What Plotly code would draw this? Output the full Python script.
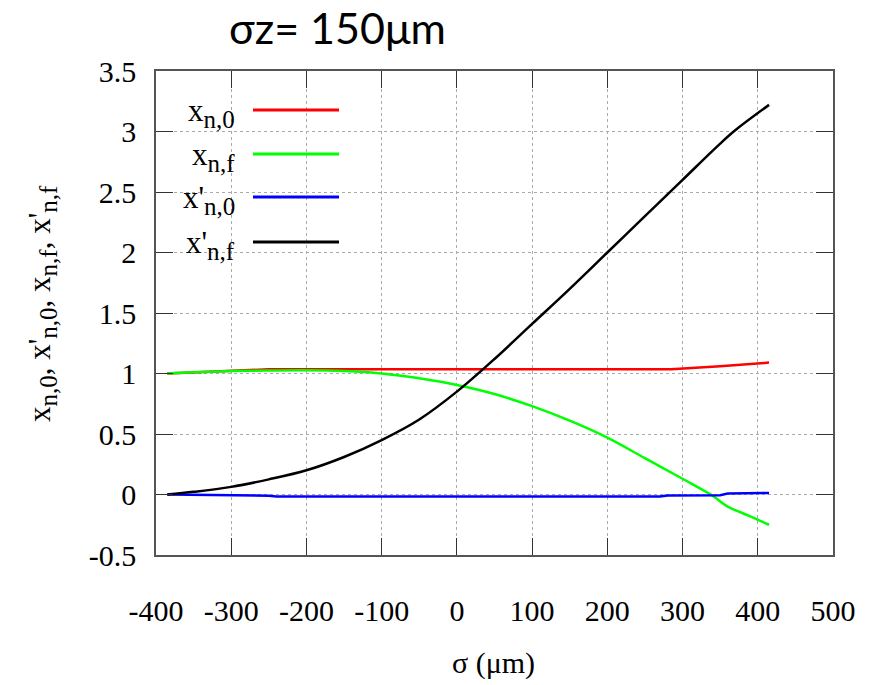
import plotly.graph_objects as go

# ---- data ----
sigma_r = [-385, -350, -300, -260, -250, 0, 285, 350, 415]
x_n0 = [1.0, 1.01, 1.02, 1.03, 1.035, 1.035, 1.035, 1.06, 1.09]

sigma_g = [-385, -350, -300, -250, -200, -150, -100, -50, 0, 50, 100, 150, 200, 250, 300, 340, 360, 390, 415]
x_nf = [1.0, 1.01, 1.02, 1.025, 1.027, 1.02, 1.0, 0.96, 0.905, 0.83, 0.73, 0.61, 0.47, 0.30, 0.13, -0.01, -0.10, -0.18, -0.25]

sigma_b = [-385, -320, -250, -240, 270, 280, 350, 360, 415]
xp_n0 = [0.0, -0.005, -0.01, -0.017, -0.017, -0.008, -0.006, 0.008, 0.013]

sigma_k = [-385, -350, -300, -250, -200, -150, -100, -50, 0, 50, 100, 150, 200, 250, 300, 350, 370, 415]
xp_nf = [0.0, 0.022, 0.063, 0.125, 0.20, 0.31, 0.45, 0.62, 0.85, 1.12, 1.41, 1.70, 2.0, 2.3, 2.6, 2.9, 3.01, 3.22]

SUB = "<sub><span style='font-size:25px'>{}</span></sub>"
x_n0_lbl = "x" + SUB.format("n,0")
x_nf_lbl = "x" + SUB.format("n,f")
xp_n0_lbl = "x'" + SUB.format("n,0")
xp_nf_lbl = "x'" + SUB.format("n,f")
names = [x_n0_lbl, x_nf_lbl, xp_n0_lbl, xp_nf_lbl]
colors = ["#ff0000", "#00ff00", "#0000ff", "#000000"]
shapes_line = ["linear", "spline", "linear", "spline"]

x_ticks = [-400, -300, -200, -100, 0, 100, 200, 300, 400, 500]
y_ticks = [-0.5, 0, 0.5, 1, 1.5, 2, 2.5, 3, 3.5]
y_ticktext = ["-0.5", "0", "0.5", "1", "1.5", "2", "2.5", "3", "3.5"]

title_text = "σz= 150μm"
x_title = "σ (μm)"
y_title = ", ".join([x_n0_lbl, xp_n0_lbl, x_nf_lbl, xp_nf_lbl])

# ---- figure ----
W, H = 877, 685
L, R, T, B = 156, 44, 71, 130
pw, ph = W - L - R, H - T - B

def px(xp):
    return (xp - L) / pw

def py(yp):
    return (H - B - yp) / ph

fig = go.Figure()
series = [(sigma_r, x_n0), (sigma_g, x_nf), (sigma_b, xp_n0), (sigma_k, xp_nf)]
for (sx, sy), nm, c, sh in zip(series, names, colors, shapes_line):
    line = dict(color=c, width=2.5, shape=sh)
    if sh == "spline":
        line["smoothing"] = 1.0
    fig.add_trace(go.Scatter(x=sx, y=sy, mode="lines", name=nm, line=line, showlegend=False))

serif = "Liberation Serif, Times New Roman, serif"
axis_common = dict(showline=True, mirror="ticks", linecolor="#555555", linewidth=1.5,
                   ticks="inside", ticklen=17, tickcolor="#333333", tickwidth=1,
                   showgrid=True, gridcolor="#aaaaaa", griddash="dot", gridwidth=1,
                   zeroline=False, tickfont=dict(family=serif, size=30, color="black"))

fig.update_xaxes(range=[-400, 500], tickvals=x_ticks, ticktext=[str(v) for v in x_ticks],
                 ticklabelstandoff=28, **axis_common)
fig.update_yaxes(range=[-0.5, 3.5], tickvals=y_ticks, ticktext=y_ticktext,
                 ticklabelstandoff=12, **axis_common)

annotations = []
shapes = []
# manual gnuplot-style legend: text right-aligned, line sample to its right
leg_rows = [110, 154, 197, 242]
for nm, c, yr in zip(names, colors, leg_rows):
    annotations.append(dict(text=nm, x=px(237), y=py(yr), xref="paper", yref="paper",
                            xanchor="right", yanchor="middle", yshift=-3, showarrow=False,
                            font=dict(family=serif, size=31, color="black")))
    shapes.append(dict(type="line", xref="paper", yref="paper",
                       x0=px(253), x1=px(339), y0=py(yr), y1=py(yr),
                       line=dict(color=c, width=3)))

annotations.append(dict(text=title_text, x=px(337), y=py(27), xref="paper", yref="paper",
                        xanchor="center", yanchor="middle", showarrow=False,
                        font=dict(family="Lato, Open Sans, sans-serif", size=43, color="black")))
annotations.append(dict(text=x_title, x=px(493), y=py(663), xref="paper", yref="paper",
                        xanchor="center", yanchor="middle", showarrow=False,
                        font=dict(family=serif, size=30, color="black")))
annotations.append(dict(text=y_title, x=px(42), y=py(304), xref="paper", yref="paper",
                        xanchor="center", yanchor="middle", textangle=-90, showarrow=False,
                        font=dict(family=serif, size=31, color="black")))

fig.update_layout(width=W, height=H, margin=dict(l=L, r=R, t=T, b=B),
                  plot_bgcolor="white", paper_bgcolor="white",
                  annotations=annotations, shapes=shapes, showlegend=False)

fig.write_html("out.html")
